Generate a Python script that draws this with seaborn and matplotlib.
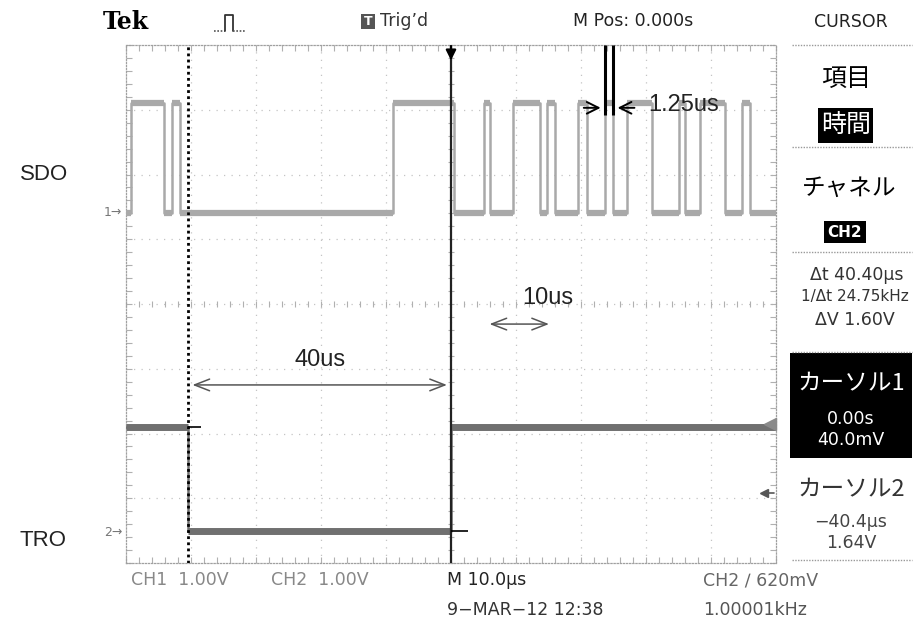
import numpy as np
import pandas as pd
import matplotlib
matplotlib.use("Agg")
import matplotlib.pyplot as plt
from matplotlib.lines import Line2D
from matplotlib.patches import Rectangle
import seaborn as sns

sns.set_theme(style="white")
plt.rcParams['font.family'] = ['DejaVu Sans', 'Noto Sans CJK JP']

# ---- acquisition settings ----
T_MIN, T_MAX = -50.0, 50.0          # 10 us/div, 10 divisions, trigger centred
N_DIV_Y = 8
VOLTS_PER_DIV = 1.0

# ---- CH1 : SDO (edges in us, starting low) ----
sdo_edges_us = [-49.2, -44.2, -42.9, -41.7, -8.9, 0.5,
                5.0, 6.0, 9.6, 13.7, 14.7, 16.0, 19.6, 20.9,
                23.7, 24.95, 27.0, 30.9, 35.0, 36.0, 38.3, 42.2, 44.7, 46.0]
sdo_levels_v = [0.0, 1.7]           # low, high
sdo_offset_div = 5.4

# ---- CH2 : TRO ----
tro_edges_us = [-40.4, 0.0]
tro_states_v = [1.64, 0.04, 1.64]
tro_offset_div = 0.46

# ---- cursors / trigger ----
cursor1_t, cursor1_v = 0.0, 0.040
cursor2_t, cursor2_v = -40.4, 1.64
trigger_level_v = 0.62
pulse_width_us = 1.25
span_40_us = (cursor2_t, cursor1_t)
span_10_us = (5.5, 15.5)


def step_frame(edges, states, offset):
    t = [T_MIN] + list(edges) + [T_MAX]
    v = list(states) + [states[-1]]
    return pd.DataFrame({"t": t, "y": [offset + s / VOLTS_PER_DIV for s in v]})


sdo_states = [sdo_levels_v[i % 2] for i in range(len(sdo_edges_us) + 1)]
sdo = step_frame(sdo_edges_us, sdo_states, sdo_offset_div)
tro = step_frame(tro_edges_us, tro_states_v, tro_offset_div)

W, H = 914, 627
fig = plt.figure(figsize=(W / 100, H / 100), dpi=100)
fig.patch.set_facecolor("white")
ax = fig.add_axes([126 / W, 1 - 563 / H, 650 / W, 518 / H])
ax.set_xlim(T_MIN, T_MAX)
ax.set_ylim(0, N_DIV_Y)
ax.set_facecolor("white")
ax.set_xticks([])
ax.set_yticks([])
for s in ax.spines.values():
    s.set_linestyle((0, (1, 1.5)))
    s.set_color("#a0a0a0")
    s.set_linewidth(0.9)

# graticule
grid_kw = dict(color="#c4c4c4", lw=0.9, ls=(0, (1, 5)), zorder=0)
for i in range(1, 10):
    ax.axvline(T_MIN + 10 * i, **grid_kw)
for j in range(1, N_DIV_Y):
    ax.axhline(j, **grid_kw)
minor_t = np.arange(T_MIN, T_MAX + 0.01, 2.0)
minor_y = np.arange(0, N_DIV_Y + 0.01, 0.2)
tick_kw = dict(color="#b0b0b0", ls="none", ms=4, mew=0.8, zorder=0, clip_on=False)
ax.plot(minor_t, np.full_like(minor_t, 4.0), marker="|", **tick_kw)
ax.plot(np.zeros_like(minor_y), minor_y, marker="_", **tick_kw)
ax.plot(minor_t, np.full_like(minor_t, 0.05), marker="|", **tick_kw)
ax.plot(minor_t, np.full_like(minor_t, 7.95), marker="|", **tick_kw)
ax.plot(np.full_like(minor_y, T_MIN + 0.5), minor_y, marker="_", **tick_kw)
ax.plot(np.full_like(minor_y, T_MAX - 0.5), minor_y, marker="_", **tick_kw)


def draw_trace(df, color, lw_edge, lw_level):
    sns.lineplot(data=df, x="t", y="y", ax=ax, drawstyle="steps-post",
                 estimator=None, sort=False, color=color, lw=lw_edge, zorder=3)
    ax.hlines(df["y"].iloc[:-1], df["t"].iloc[:-1], df["t"].iloc[1:],
              color=color, lw=lw_level, zorder=3)


draw_trace(sdo, "#a9a9a9", 1.8, 4.5)
draw_trace(tro, "#707070", 1.8, 5.0)

# cursors
ax.axvline(cursor2_t, color="black", lw=2.0, ls=(0, (1, 1.2)), zorder=4)
ax.axvline(cursor1_t, color="#222222", lw=1.6, zorder=4)
ax.hlines(tro_offset_div + cursor2_v, cursor2_t, cursor2_t + 2.0, color="black", lw=1.2, zorder=5)
ax.hlines(tro_offset_div + cursor1_v, cursor1_t, cursor1_t + 2.6, color="black", lw=1.2, zorder=5)

# trigger position marker
ax.annotate("", xy=(cursor1_t, 7.72), xytext=(cursor1_t, 8.02),
            arrowprops=dict(arrowstyle="-|>,head_length=0.5,head_width=0.25", color="black", lw=1.6),
            annotation_clip=False, zorder=6)
# right-edge level markers
ax.plot([T_MAX - 1.0], [tro_offset_div + cursor2_v + 0.05], marker="<", ms=8, color="#8a8a8a", clip_on=False, zorder=6)
ax.plot([T_MAX - 1.8], [tro_offset_div + trigger_level_v], marker="<", ms=6, color="#555555", clip_on=False, zorder=6)
ax.plot([T_MAX - 1.8, T_MAX - 0.3], [tro_offset_div + trigger_level_v] * 2, color="#555555", lw=1.2, clip_on=False, zorder=6)

# measurement annotations
arrow_gray = dict(arrowstyle="<->,head_length=0.9,head_width=0.35", color="#555555", lw=1.1)
ax.annotate("", xy=(span_40_us[0] + 0.2, 2.75), xytext=(span_40_us[1] - 0.2, 2.75), arrowprops=arrow_gray)
ax.text(sum(span_40_us) / 2, 3.13, f"{span_40_us[1] - span_40_us[0]:.0f}us",
        ha="center", va="center", fontsize=17, family="Liberation Sans", color="#222222")
ax.annotate("", xy=(span_10_us[0], 3.69), xytext=(span_10_us[1], 3.69), arrowprops=arrow_gray)
ax.text(14.9, 4.09, f"{span_10_us[1] - span_10_us[0]:.0f}us",
        ha="center", va="center", fontsize=17, family="Liberation Sans", color="#222222")

p0, p1 = 23.7, 23.7 + pulse_width_us
for tp in (p0, p1):
    ax.vlines(tp, 6.92, 8.0, color="black", lw=2.2, zorder=6)
ax.annotate("", xy=(p0 - 0.25, 7.03), xytext=(p0 - 3.7, 7.03),
            arrowprops=dict(arrowstyle="->,head_length=0.7,head_width=0.35", color="black", lw=1.4))
ax.annotate("", xy=(p1 + 0.25, 7.03), xytext=(p1 + 3.7, 7.03),
            arrowprops=dict(arrowstyle="->,head_length=0.7,head_width=0.35", color="black", lw=1.4))
ax.text(35.8, 7.07, f"{pulse_width_us:.2f}us", ha="center", va="center",
        fontsize=17, family="Liberation Sans", color="#222222")


# ---- screen texts ----
SCOPE = ["DejaVu Sans", "Noto Sans CJK JP"]
JP = ["Noto Sans CJK JP", "DejaVu Sans"]


def ftext(x, y, s, size, color="black", ha="left", family=None, **kw):
    return fig.text(x / W, 1 - y / H, s, fontsize=size, color=color, ha=ha, va="center",
                    family=family or SCOPE, **kw)


def fbox(x0, y0, x1, y1, color="black"):
    fig.add_artist(Rectangle((x0 / W, 1 - y1 / H), (x1 - x0) / W, (y1 - y0) / H,
                             transform=fig.transFigure, fc=color, ec="none"))


def fline(xs, ys, **kw):
    fig.add_artist(Line2D([x / W for x in xs], [1 - y / H for y in ys],
                          transform=fig.transFigure, **kw))


# top bar
ftext(103, 22, "Tek", 17, family=["DejaVu Serif"], weight="bold")
fline([214, 225], [31, 31], color="#555555", lw=1.2, ls=(0, (1, 1)))
fline([225, 225, 233, 233], [31, 15, 15, 31], color="#333333", lw=1.3)
fline([233, 246], [31, 31], color="#555555", lw=1.2, ls=(0, (1, 1)))
fbox(361, 14, 375, 29, "#555555")
ftext(368, 21.5, "T", 9, color="white", ha="center", weight="bold")
ftext(380, 21, "Trig\u2019d", 12.5, color="#333333")
ftext(573, 21, "M Pos: 0.000s", 12.5, color="#222222")
ftext(851, 22, "CURSOR", 12.5, color="#222222", ha="center")

# right menu
sep_kw = dict(color="#999999", lw=1.0, ls=(0, (1, 1)))
for ys in (45, 147, 252, 352, 560):
    fline([792, 912], [ys, ys], **sep_kw)
ftext(846, 79, "項目", 18, family=JP, ha="center")
fbox(818, 108, 873, 143)
ftext(846, 125, "時間", 18, color="white", family=JP, ha="center")
ftext(849, 188, "チャネル", 17, family=JP, ha="center")
fbox(824, 221, 866, 243)
ftext(845, 232, "CH2", 11, color="white", ha="center", weight="bold")
dt = cursor1_t - cursor2_t
ftext(857, 275, f"\u0394t {dt:.2f}\u00b5s", 12.5, color="#333333", ha="center")
ftext(855, 297, f"1/\u0394t {1000 / dt:.2f}kHz", 11, color="#333333", ha="center")
ftext(855, 320, f"\u0394V {cursor2_v - cursor1_v:.2f}V", 12.5, color="#333333", ha="center")
fbox(790, 353, 912, 458)
ftext(851, 384, "カーソル1", 17, color="white", family=JP, ha="center")
ftext(851, 419, f"{cursor1_t:.2f}s", 12.5, color="white", ha="center")
ftext(851, 440, f"{cursor1_v * 1000:.1f}mV", 12.5, color="white", ha="center")
ftext(851, 490, "カーソル2", 17, color="#333333", family=JP, ha="center")
ftext(851, 522, f"\u2212{abs(cursor2_t):.1f}\u00b5s", 12.5, color="#444444", ha="center")
ftext(851, 543, f"{cursor2_v:.2f}V", 12.5, color="#444444", ha="center")

# channel labels
ftext(20, 175, "SDO", 16, family=["Liberation Sans"], color="#222222")
ftext(20, 540, "TRO", 16, family=["Liberation Sans"], color="#222222")
ftext(104, 213, "1\u2192", 9, color="#777777")
ftext(104, 533, "2\u2192", 9, color="#777777")

# status line
ftext(131, 580, f"CH1  {VOLTS_PER_DIV:.2f}V", 12.5, color="#888888")
ftext(271, 580, f"CH2  {VOLTS_PER_DIV:.2f}V", 12.5, color="#888888")
ftext(447, 580, "M 10.0\u00b5s", 12.5, color="#222222")
ftext(703, 580, f"CH2 \u2215 {trigger_level_v * 1000:.0f}mV", 12.5, color="#666666")
ftext(447, 610, "9\u2212MAR\u221212 12:38", 12.5, color="#333333")
ftext(703, 610, "1.00001kHz", 12.5, color="#555555")

fig.savefig("out.png", dpi=100, facecolor="white")
